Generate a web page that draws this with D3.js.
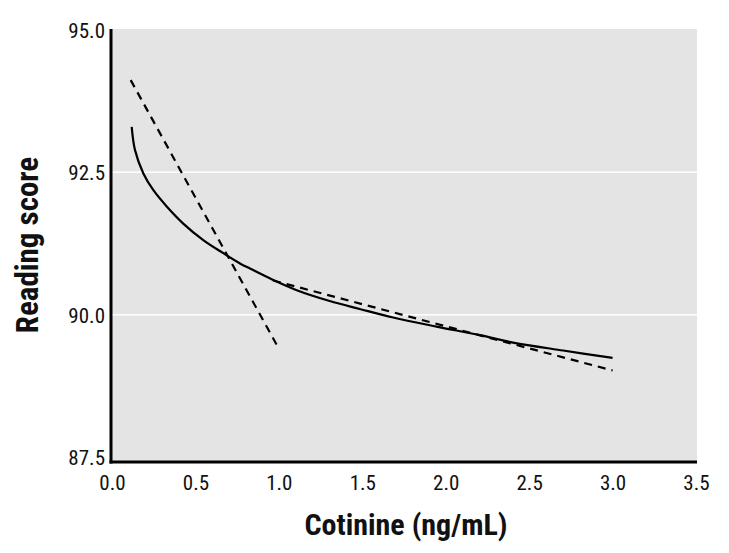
<!DOCTYPE html>
<html>
<head>
<meta charset="utf-8">
<script src="https://cdn.jsdelivr.net/npm/d3@7"></script>
<style>
  html, body { margin: 0; padding: 0; background: #fff; }
  svg { display: block; }
  text { font-family: "Liberation Sans Narrow", "Arial Narrow", "Roboto Condensed", Roboto, sans-serif; font-stretch: condensed; }
</style>
</head>
<body>
<svg id="chart" width="729" height="553"></svg>
<script>
// ---- data ----
const xTicks = [0.0, 0.5, 1.0, 1.5, 2.0, 2.5, 3.0, 3.5];
const yTicks = [87.5, 90.0, 92.5, 95.0];
const gridValues = [90.0, 92.5];

// fitted curve (solid)
const curveX = [0.118, 0.138, 0.188, 0.247, 0.328, 0.427, 0.547, 0.667, 0.767, 0.827, 0.966, 1.107, 1.305, 1.485, 1.685, 1.945, 2.205, 2.404, 2.704, 3.0];
const curveY = [93.30, 92.89, 92.48, 92.19, 91.90, 91.60, 91.31, 91.08, 90.90, 90.81, 90.61, 90.43, 90.24, 90.10, 89.95, 89.79, 89.64, 89.51, 89.37, 89.24];

// piecewise linear fits (dashed)
const lowSegX = [0.112, 0.987];
const lowSegY = [94.12, 89.47];
const highSegX = [0.965, 3.0];
const highSegY = [90.60, 89.02];

const xLabel = "Cotinine (ng/mL)";
const yLabel = "Reading score";

// ---- drawing ----
const svg = d3.select("#chart");
const plot = { left: 111, right: 697, top: 29, bottom: 462 };

const x = d3.scaleLinear().domain([0, 3.5]).range([112, 696]);
const y = d3.scaleLinear().domain([87.5, 95]).range([457, 30]);

svg.append("rect")
  .attr("x", plot.left).attr("y", plot.top)
  .attr("width", plot.right - plot.left).attr("height", plot.bottom - plot.top)
  .attr("fill", "#e4e4e4");

svg.selectAll("line.grid").data(gridValues).enter().append("line")
  .attr("class", "grid")
  .attr("x1", plot.left).attr("x2", plot.right)
  .attr("y1", d => y(d)).attr("y2", d => y(d))
  .attr("stroke", "#ffffff").attr("stroke-width", 1.5);

// axes (labels only, no ticks)
const yAxis = d3.axisLeft(y).tickValues(yTicks).tickFormat(d3.format(".1f")).tickSize(0).tickPadding(0);
const yg = svg.append("g").attr("transform", `translate(105,0)`).call(yAxis);
yg.select(".domain").remove();
yg.selectAll("text").attr("font-size", 21).attr("fill", "#111").attr("dy", "0.35em")
  .style("font-family", '"Liberation Sans Narrow", "Arial Narrow", Roboto, sans-serif');

const xAxis = d3.axisBottom(x).tickValues(xTicks).tickFormat(d3.format(".1f")).tickSize(0).tickPadding(0);
const xg = svg.append("g").attr("transform", `translate(0,483)`).call(xAxis);
xg.select(".domain").remove();
xg.selectAll("text").attr("font-size", 21).attr("fill", "#111").attr("dy", "0.35em")
  .style("font-family", '"Liberation Sans Narrow", "Arial Narrow", Roboto, sans-serif');

// axis frame lines
svg.append("line").attr("x1", plot.left).attr("x2", plot.left)
  .attr("y1", plot.top).attr("y2", plot.bottom + 1.5)
  .attr("stroke", "#000").attr("stroke-width", 3);
svg.append("line").attr("x1", plot.left - 1.5).attr("x2", plot.right)
  .attr("y1", plot.bottom).attr("y2", plot.bottom)
  .attr("stroke", "#000").attr("stroke-width", 3);

const line = d3.line().x(d => x(d[0])).y(d => y(d[1])).curve(d3.curveCatmullRom.alpha(0.5));
const lin = d3.line().x(d => x(d[0])).y(d => y(d[1]));

svg.append("path")
  .datum(d3.zip(lowSegX, lowSegY))
  .attr("d", lin).attr("fill", "none")
  .attr("stroke", "#000").attr("stroke-width", 2.2).attr("stroke-dasharray", "8,6");
svg.append("path")
  .datum(d3.zip(highSegX, highSegY))
  .attr("d", lin).attr("fill", "none")
  .attr("stroke", "#000").attr("stroke-width", 2.2).attr("stroke-dasharray", "8,6");
svg.append("path")
  .datum(d3.zip(curveX, curveY))
  .attr("d", line).attr("fill", "none")
  .attr("stroke", "#000").attr("stroke-width", 2.2);

// titles
svg.append("text").text(xLabel)
  .attr("x", 406).attr("y", 535).attr("text-anchor", "middle")
  .attr("font-size", 30).attr("font-weight", "bold").attr("fill", "#111");
svg.append("text").text(yLabel)
  .attr("transform", "translate(38,245) rotate(-90)").attr("text-anchor", "middle")
  .attr("font-size", 31).attr("font-weight", "bold").attr("fill", "#111");
</script>
</body>
</html>
